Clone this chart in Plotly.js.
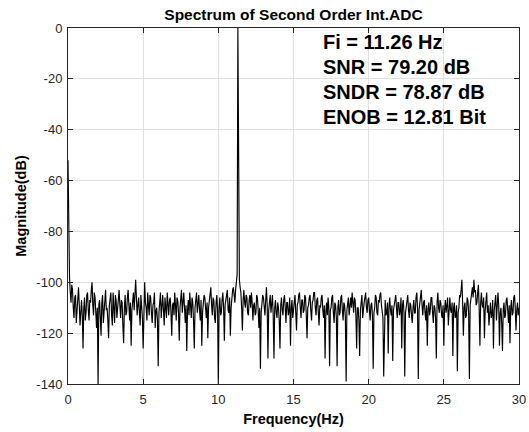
<!DOCTYPE html>
<html>
<head>
<meta charset="utf-8">
<script src="https://cdn.plot.ly/plotly-3.0.1.min.js"></script>
<style>html,body{margin:0;padding:0;background:#fff}#chart{width:529px;height:432px}</style>
</head>
<body>
<div id="chart"></div>
<script>
// Frequency bins: start 0 Hz, spacing 0.05 Hz (placed by Plotly via x0/dx)
const freqStart = 0;
const freqStep = 0.05;

// Magnitude (dB) per bin, 0.00 .. 30.00 Hz (20 bins per Hz per row)
const magnitude = [
  -52, -97, -98, -104, -108, -101, -103, -110, -114, -106, -105, -116, -111, -104, -102, -109, -117, -112, -107, -113,
  -126, -110, -106, -115, -112, -105, -104, -111, -115, -107, -108, -103, -100, -109, -113, -104, -106, -112, -118, -110,
  -140, -109, -107, -114, -121, -108, -105, -116, -112, -106, -103, -111, -110, -115, -122, -109, -106, -104, -113, -117,
  -104, -110, -116, -105, -107, -114, -111, -106, -103, -109, -114, -107, -108, -117, -124, -110, -105, -113, -112, -106,
  -103, -109, -115, -108, -125, -111, -107, -104, -111, -105, -99, -106, -113, -109, -106, -112, -117, -105, -109, -114,
  -126, -107, -100, -108, -110, -115, -104, -109, -113, -105, -106, -112, -116, -109, -108, -104, -118, -111, -110, -115,
  -133, -112, -108, -104, -114, -110, -105, -111, -117, -106, -109, -114, -104, -108, -113, -107, -106, -112, -121, -109,
  -108, -113, -104, -109, -115, -106, -107, -112, -123, -110, -105, -103, -112, -108, -104, -110, -116, -109, -127, -111,
  -107, -113, -104, -109, -114, -106, -108, -115, -126, -110, -106, -104, -112, -108, -105, -111, -115, -107, -125, -112,
  -109, -105, -106, -113, -114, -108, -122, -110, -108, -104, -102, -109, -113, -106, -107, -114, -116, -108, -105, -111,
  -140, -110, -106, -113, -112, -107, -104, -110, -123, -109, -107, -105, -103, -111, -112, -106, -121, -110, -105, -103,
  -102, -106, -108, -103, -100, -97, 0, -97, -99, -102, -104, -110, -119, -107, -103, -108, -110, -105, -106, -112,
  -113, -107, -105, -110, -104, -108, -115, -109, -108, -113, -112, -105, -106, -111, -118, -110, -134, -112, -109, -105,
  -106, -111, -113, -107, -102, -109, -130, -111, -108, -105, -112, -109, -105, -113, -130, -110, -107, -112, -114, -108,
  -110, -115, -126, -109, -106, -111, -113, -107, -105, -110, -116, -108, -108, -113, -111, -106, -125, -110, -107, -114,
  -112, -108, -105, -111, -119, -109, -108, -105, -104, -110, -114, -107, -107, -112, -111, -105, -106, -113, -122, -110,
  -109, -106, -105, -111, -115, -108, -107, -104, -104, -110, -113, -107, -106, -112, -117, -109, -110, -106, -105, -111,
  -114, -109, -130, -112, -108, -113, -106, -110, -133, -111, -110, -106, -105, -112, -116, -108, -109, -114, -133, -110,
  -107, -113, -112, -106, -105, -111, -115, -108, -109, -114, -139, -111, -108, -106, -113, -109, -106, -110, -104, -108,
  -112, -106, -107, -113, -126, -110, -110, -115, -129, -111, -107, -105, -114, -109, -108, -106, -104, -110, -112, -107,
  -106, -111, -115, -109, -108, -113, -134, -112, -110, -105, -106, -112, -113, -107, -108, -105, -104, -109, -111, -114,
  -137, -110, -107, -113, -112, -108, -128, -110, -106, -111, -113, -109, -131, -111, -109, -106, -105, -110, -114, -108,
  -108, -113, -111, -106, -126, -109, -107, -112, -137, -112, -110, -106, -105, -111, -114, -108, -109, -113, -116, -110,
  -107, -112, -112, -106, -104, -110, -138, -111, -109, -105, -103, -109, -113, -108, -107, -112, -115, -109, -125, -111,
  -108, -113, -111, -106, -106, -112, -116, -109, -110, -114, -130, -108, -104, -110, -112, -107, -108, -113, -114, -109,
  -125, -111, -107, -112, -110, -106, -117, -110, -106, -111, -112, -108, -129, -110, -108, -114, -113, -109, -135, -112,
  -110, -105, -106, -103, -99, -108, -121, -110, -108, -114, -113, -106, -107, -112, -138, -109, -106, -104, -102, -106,
  -99, -104, -103, -109, -108, -104, -101, -110, -125, -108, -104, -109, -110, -106, -122, -111, -106, -104, -112, -109,
  -117, -110, -108, -114, -113, -107, -126, -111, -109, -105, -115, -110, -104, -109, -125, -112, -110, -116, -127, -111,
  -108, -114, -113, -107, -106, -111, -116, -109, -124, -110, -107, -113, -112, -106, -105, -110, -119, -111, -108, -113,
  -110
];

const xTickVals = [0, 5, 10, 15, 20, 25, 30];
const xTickText = ['0', '5', '10', '15', '20', '25', '30'];
const yTickVals = [-140, -120, -100, -80, -60, -40, -20, 0];
const yTickText = ['-140', '-120', '-100', '-80', '-60', '-40', '-20', '0'];

const chartTitle = 'Spectrum of Second Order Int.ADC';
const xLabel = 'Frequency(Hz)';
const yLabel = 'Magnitude(dB)';
const statLines = ['Fi = 11.26 Hz', 'SNR = 79.20 dB', 'SNDR = 78.87 dB', 'ENOB = 12.81 Bit'];

const FONT = 'Liberation Sans, Arial, Helvetica, sans-serif';
const AX = '#262626';

const trace = {
  type: 'scatter',
  mode: 'lines',
  x0: freqStart,
  dx: freqStep,
  y: magnitude,
  line: {color: '#000000', width: 1.15},
  hoverinfo: 'skip'
};

const statY = [0.9607, 0.8905, 0.8203, 0.7500];
const annotations = statLines.map((t, i) => ({
  text: t,
  xref: 'paper', yref: 'paper',
  x: 0.56, y: statY[i],
  xanchor: 'left', yanchor: 'middle',
  showarrow: false,
  font: {family: FONT, size: 20, weight: 'bold', color: '#000'}
}));

const axisCommon = {
  showline: true, linecolor: AX, linewidth: 1, mirror: 'ticks',
  ticks: 'inside', ticklen: 5, tickwidth: 1, tickcolor: AX,
  showgrid: true, gridcolor: '#e0e0e0', gridwidth: 1,
  zeroline: false, tickmode: 'array',
  tickfont: {family: FONT, size: 13, color: AX},
  automargin: false, fixedrange: true
};

const layout = {
  width: 529, height: 432,
  margin: {l: 68, r: 10, t: 28, b: 48, pad: 0},
  paper_bgcolor: '#ffffff', plot_bgcolor: '#ffffff',
  showlegend: false,
  title: {
    text: chartTitle,
    font: {family: FONT, size: 15.5, weight: 'bold', color: '#000'},
    x: 0.5, xref: 'paper', xanchor: 'center',
    y: 1 - 14.5 / 432, yref: 'container', yanchor: 'middle'
  },
  xaxis: Object.assign({}, axisCommon, {
    range: [0, 30], tickvals: xTickVals, ticktext: xTickText,
    ticklabelstandoff: 3,
    title: {text: xLabel, font: {family: FONT, size: 14.5, weight: 'bold', color: '#000'}, standoff: 8}
  }),
  yaxis: Object.assign({}, axisCommon, {
    range: [-140, 0], tickvals: yTickVals, ticktext: yTickText,
    ticklabelstandoff: 2,
    title: {text: yLabel, font: {family: FONT, size: 14.5, weight: 'bold', color: '#000'}, standoff: 6}
  }),
  annotations: annotations
};

Plotly.newPlot('chart', [trace], layout, {displayModeBar: false, staticPlot: true});
</script>
</body>
</html>
